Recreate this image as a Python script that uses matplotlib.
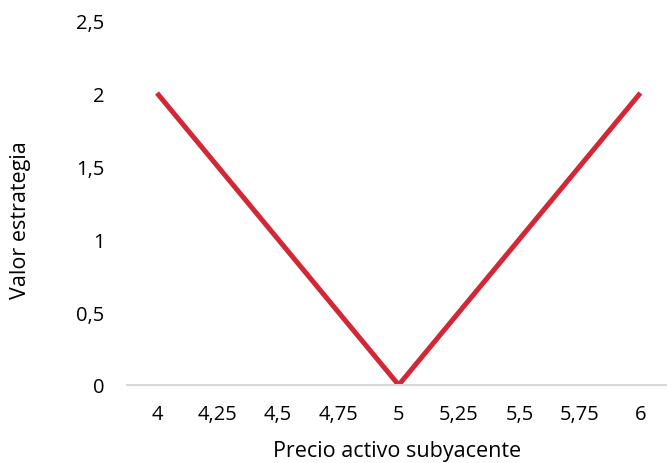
import matplotlib.pyplot as plt

precios = ["4", "4,25", "4,5", "4,75", "5", "5,25", "5,5", "5,75", "6"]
valores = [2, 1.5, 1, 0.5, 0, 0.5, 1, 1.5, 2]
y_ticks = [0, 0.5, 1, 1.5, 2, 2.5]
y_labels = ["0", "0,5", "1", "1,5", "2", "2,5"]

plt.rcParams["font.family"] = ["Open Sans", "DejaVu Sans"]

fig = plt.figure(figsize=(6.67, 4.64), dpi=100)
ax_left = 126.75 / 667
ax = fig.add_axes([ax_left, 78 / 464, 1 - ax_left, 365 / 464])

x = list(range(len(precios)))
ax.plot(x, valores, color="#D32735", linewidth=3.6, solid_capstyle="butt")

ax.set_xlim(-0.5, 8.44)
ax.set_ylim(0, 2.5)
ax.set_xticks(x)
ax.set_xticklabels(precios, fontsize=14.5)
ax.set_yticks(y_ticks)
ax.set_yticklabels(y_labels, fontsize=14.5)
ax.tick_params(axis="both", length=0, colors="black")
ax.tick_params(axis="x", pad=14)
ax.tick_params(axis="y", pad=16)

for s in ["top", "right", "left"]:
    ax.spines[s].set_visible(False)
ax.spines["bottom"].set_color("#D9D9D9")
ax.spines["bottom"].set_linewidth(1.5)

ax.set_xlabel("Precio activo subyacente", fontsize=15.5, labelpad=11)
ax.set_ylabel("Valor estrategia", fontsize=15.5)
# label anchor is its right edge once rotated
ax.yaxis.set_label_coords((31 - 126.75) / (667 - 126.75), 0.455)

fig.savefig("out.png", dpi=100)
